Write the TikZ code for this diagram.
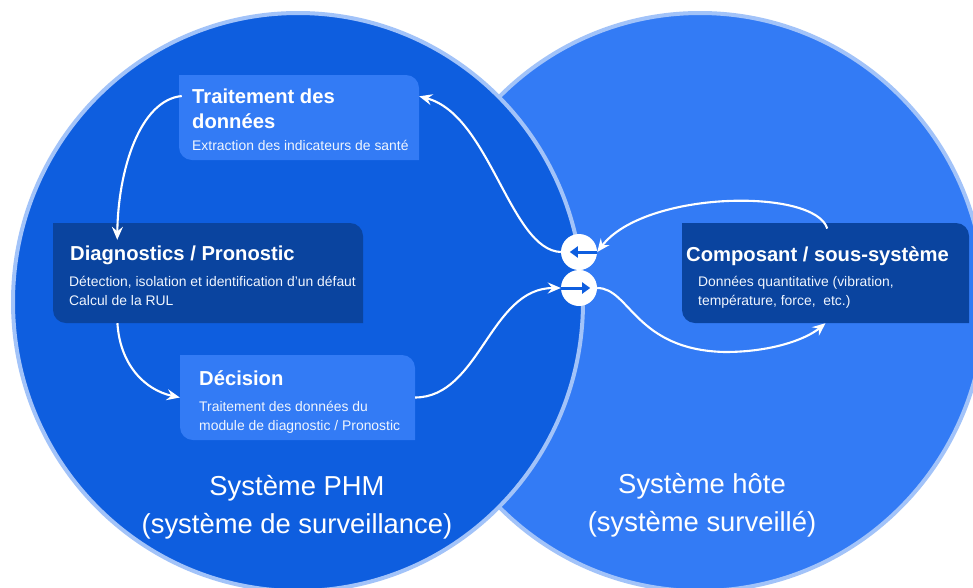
\documentclass[tikz,border=0pt]{standalone}
\usepackage{fontspec}
\setmainfont{Liberation Sans}
\usepackage{xcolor}
\usetikzlibrary{
    arrows.meta,
    calc,
    positioning
}
\definecolor{phmblue}{HTML}{0E5EDF}
\definecolor{hostblue}{HTML}{337BF5}
\definecolor{darkblue}{HTML}{0A449F}
\definecolor{rimblue}{HTML}{A2C3F9}
\tikzset{
    sysdisc/.style={draw=rimblue, line width=4pt},
    panel/.style={
        rectangle, inner sep=0pt,
        path picture={
            \fill[#1] (path picture bounding box.north west)
                [rounded corners=13pt] -- (path picture bounding box.north east)
                [sharp corners] -- (path picture bounding box.south east)
                [rounded corners=13pt] -- (path picture bounding box.south west)
                [sharp corners] -- cycle;
        }
    },
    titletext/.style={anchor=north west, inner sep=0pt, align=left, text=white,
        font=\fontsize{20.2}{24.5}\selectfont\bfseries},
    bodytext/.style={anchor=north west, inner sep=0pt, align=left, text=white!92!hostblue,
        font=\fontsize{13.9}{19.5}\selectfont},
    systext/.style={inner sep=0pt, align=center, text=white,
        font=\fontsize{27.4}{38}\selectfont},
    port/.style={circle, fill=white, inner sep=0pt, minimum size=36pt},
    flow/.style={draw=white, line width=2.1pt, -{Stealth[length=13pt,width=11pt,inset=4.5pt]}},
    portflow/.style={draw=phmblue, line width=3pt, -{Triangle[length=8pt,width=11pt]}}
}
\begin{document}
\begin{tikzpicture}[x=1pt, y=-1pt]
    \useasboundingbox (0, 0) rectangle (973, 587);
    \clip (0, 0) rectangle (973, 587);
    \fill[white] (0, 0) rectangle (973, 587);

    \filldraw[sysdisc, fill=hostblue] (700, 302) ellipse [x radius=285pt, y radius=289pt];
    \filldraw[sysdisc, fill=phmblue] (298, 302) ellipse [x radius=285pt, y radius=289pt];

    \node[panel=hostblue, minimum width=240pt, minimum height=85pt] (traitement) at (299, 117.5) {};
    \node[panel=darkblue, minimum width=310pt, minimum height=100pt] (diagnostics) at (208, 273) {};
    \node[panel=hostblue, minimum width=235pt, minimum height=85pt] (decision) at (297.5, 397.5) {};
    \node[panel=darkblue, minimum width=287pt, minimum height=100pt] (composant) at (825.5, 273) {};

    \node[titletext] (traitementtitle) at (192, 89) {Traitement des\\données};
    \node[bodytext] (traitementbody) at (192, 140) {Extraction des indicateurs de santé};
    \node[titletext] (diagnosticstitle) at (70, 246) {Diagnostics / Pronostic};
    \node[bodytext] (diagnosticsbody) at (69, 276) {Détection, isolation et identification d’un défaut\\Calcul de la RUL};
    \node[titletext] (decisiontitle) at (199, 370) {Décision};
    \node[bodytext] (decisionbody) at (199, 401) {Traitement des données du\\module de diagnostic / Pronostic};
    \node[titletext] (composanttitle) at (686, 246) {Composant / sous-système};
    \node[bodytext] (composantbody) at (698, 276) {Données quantitative (vibration,\\température, force,\ \ etc.)};

    \node[systext] (phmlabel) at (297, 507) {Système PHM\\(système de surveillance)};
    \node[systext] (hostlabel) at (702, 505) {Système hôte\\(système surveillé)};

    \node[port] (portout) at (579, 252) {};
    \node[port] (portin) at (579, 288) {};
    \draw[portflow, shorten >=9pt] (portout.east) -- (portout.west);
    \draw[portflow, shorten >=7pt] (portin.west) -- (portin.east);

    \draw[flow, shorten <=-3pt, shorten >=-17pt] (traitement.170) .. controls (140, 100) and (118, 170) .. (diagnostics.151);
    \draw[flow] (diagnostics.209.3) .. controls (120, 365) and (145, 390) .. (decision.west);
    \draw[flow] (decision.east) .. controls (480, 397) and (490, 288) .. (portin.west);
    \draw[flow] (portout.west) .. controls (510, 250) and (490, 115) .. (traitement.10);
    \draw[flow, shorten <=-6pt] (composant.north) .. controls (815, 188) and (645, 190) .. (portout.east);
    \draw[flow] (portin.east) .. controls (630, 288) and (635, 350) .. (725, 352)
        .. controls (770, 352) and (805, 340) .. (composant.south);
\end{tikzpicture}
\end{document}
